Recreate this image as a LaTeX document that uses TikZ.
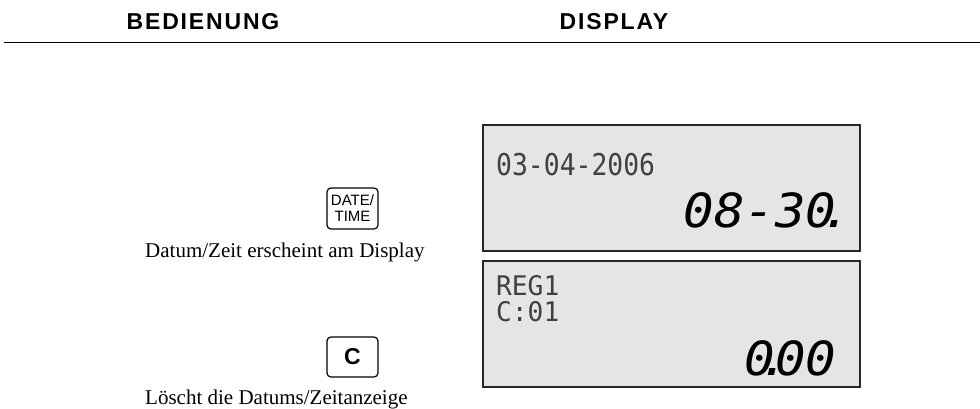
\documentclass[tikz,border=0pt]{standalone}
\usepackage{fontspec}
\usepackage{graphicx}
\setmainfont{Liberation Serif}
\setsansfont{Liberation Sans}
\newfontfamily\headfont{Liberation Sans}[LetterSpace=8]
\newfontfamily\lcdfont{DejaVu Sans Mono}
\usepackage{tikz}
\usetikzlibrary{positioning}
\tikzset{
  head/.style={font=\headfont\bfseries\fontsize{23}{26}\selectfont,inner sep=0pt,anchor=base},
  lcd/.style={rectangle,draw=black!85,fill=black!10,line width=1.1pt,
    minimum width=377pt,minimum height=126pt,anchor=north west,outer sep=0pt},
  dots/.style={font=\lcdfont\fontsize{30}{26}\selectfont,text=black!75,inner sep=0pt,anchor=base west},
  seg/.style={font=\lcdfont\itshape\fontsize{47}{47}\selectfont,inner sep=0pt,anchor=base west},
  keycap/.style={rectangle,rounded corners=4pt,draw,line width=1.2pt,
    minimum width=51pt,inner sep=0pt,align=center},
  note/.style={font=\fontsize{21}{24}\selectfont,inner sep=0pt,anchor=base west}
}
\newcommand{\narrow}[1]{\scalebox{0.88}[1]{#1}}
\newcommand{\wide}[1]{\scalebox{1.08}[1]{#1}}

\begin{document}
\begin{tikzpicture}[x=1pt,y=-1pt]
\useasboundingbox (0,0) rectangle (980,408);
% header
\node[head] (hbed) at (203,29.5) {BEDIENUNG};
\node[head] (hdisp) at (614,29.5) {DISPLAY};
\draw[line width=1.5pt] (4,42.7) -- (980,42.7);
% displays
\node[lcd] (ldate) at (483,125) {};
\node[lcd] (lreg) at (483,261) {};
\node[dots] (tdate) at (496,175) {\narrow{03-04-2006}};
\node[seg] (ttime) at (683.5,227) {\wide{08-30\makebox[0pt]{.}}};
\node[dots,align=left,font=\lcdfont\fontsize{27}{26}\selectfont]
  (treg) at (496,321) {\scalebox{0.97}[1]{REG1}\\\scalebox{0.97}[1]{C:01}};
\node[seg] (tzero) at (744.5,375) {\wide{0\makebox[0pt]{.}00}};
% keys
\node[keycap,minimum height=41pt,font=\sffamily\fontsize{15}{16}\selectfont]
  (kdate) at (352.5,208.5) {DATE/\\TIME};
\node[keycap,minimum height=40pt,font=\sffamily\bfseries\fontsize{23}{23}\selectfont]
  (kclr) at (352.5,357) {C};
\node[note] (ndate) at (145,257) {Datum/Zeit erscheint am Display};
\node[note] (nclr) at (145,404) {Löscht die Datums/Zeitanzeige};
\end{tikzpicture}
\end{document}
